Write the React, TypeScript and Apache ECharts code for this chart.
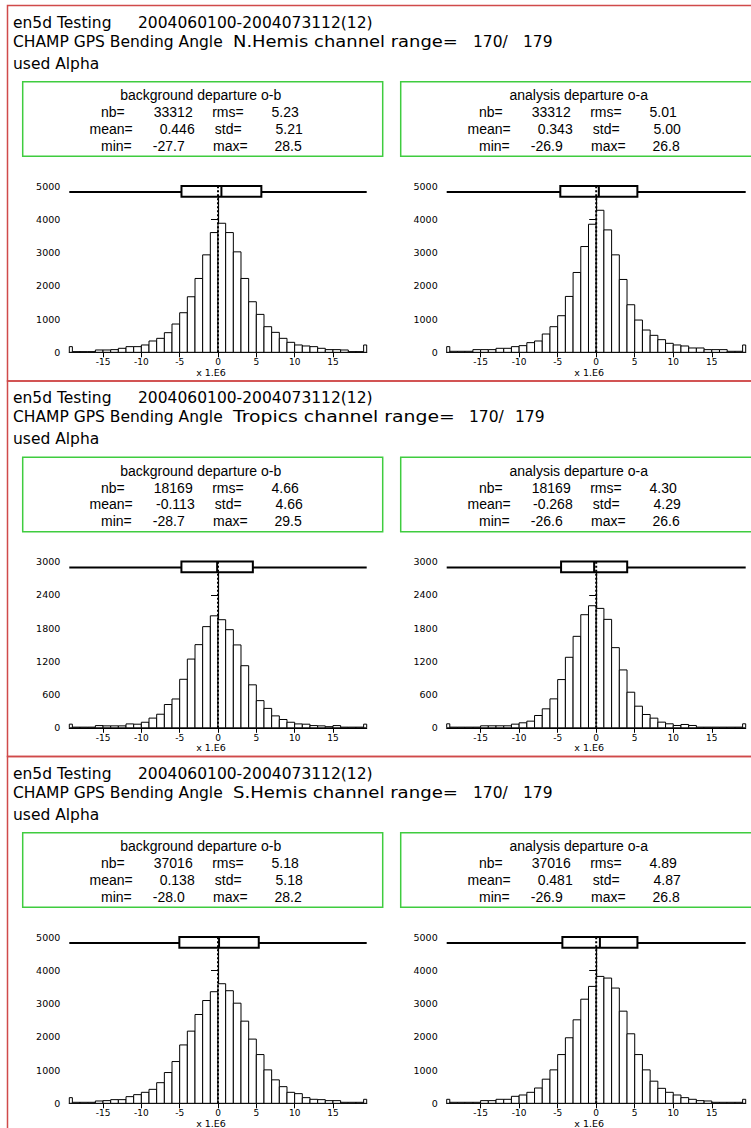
import React, { useEffect, useRef } from "react";
import * as echarts from "echarts";

// ---------- texts ----------
const RUN_NAME = "en5d Testing";
const PERIOD = "2004060100-2004073112(12)";
const INSTRUMENT = "CHAMP GPS Bending Angle";
const REGIONS = ["N.Hemis", "Tropics", "S.Hemis"];
const CHANNEL_TEXT = "channel range=";
const CHANNEL_FROM = 170;
const CHANNEL_TO = 179;
const USED_LINE = "used Alpha";
const DEPARTURE_TITLES = ["background departure o-b", "analysis departure o-a"];
const X_NAME = "x 1.E6";

// ---------- statistics [region][o-b, o-a] ----------
const NB = [[33312, 33312], [18169, 18169], [37016, 37016]];
const RMS = [[5.23, 5.01], [4.66, 4.30], [5.18, 4.89]];
const MEAN = [[0.446, 0.343], [-0.113, -0.268], [0.138, 0.481]];
const STD = [[5.21, 5.00], [4.66, 4.29], [5.18, 4.87]];
const MIN = [[-27.7, -26.9], [-28.7, -26.6], [-28.0, -26.9]];
const MAX = [[28.5, 26.8], [29.5, 26.6], [28.2, 26.8]];

// ---------- axes ----------
const Y_MAX = [5000, 3000, 5000];
const Y_STEP = [1000, 600, 1000];
const X_TICKS = [-15, -10, -5, 0, 5, 10, 15];
const X_LIMIT = 19.4;
const BIN_FIRST_EDGE = -19; // 38 unit bins from -19 to 19

// ---------- histogram counts, bins [-19,-18] ... [18,19] ----------
const NH_OB = [20, 20, 20, 70, 70, 80, 120, 170, 170, 220, 340, 420, 590, 850, 1190, 1670, 2220, 2930, 3600,
  3880, 3600, 3020, 2220, 1520, 1140, 770, 600, 420, 300, 220, 190, 170, 120, 80, 80, 70, 20, 20];
const NH_OA = [30, 30, 30, 80, 80, 80, 120, 120, 170, 200, 290, 340, 550, 770, 1100, 1680, 2400, 3180, 3850,
  4270, 3680, 2930, 2190, 1430, 970, 670, 510, 380, 270, 220, 190, 130, 130, 80, 80, 80, 30, 30];
const TR_OB = [12, 12, 12, 40, 35, 35, 35, 70, 65, 100, 175, 245, 420, 520, 875, 1240, 1500, 1825, 2020,
  1950, 1770, 1495, 1120, 775, 490, 350, 215, 150, 100, 70, 65, 40, 35, 20, 40, 12, 12, 12];
const TR_OA = [12, 12, 12, 12, 36, 36, 36, 36, 66, 90, 120, 222, 342, 522, 870, 1272, 1650, 2040, 2202,
  2154, 1956, 1446, 1044, 642, 390, 240, 174, 102, 72, 42, 60, 42, 12, 12, 12, 12, 12, 12];
const SH_OB = [30, 30, 30, 70, 80, 110, 110, 200, 260, 330, 420, 620, 925, 1255, 1755, 2170, 2670, 3090, 3355,
  3595, 3385, 3010, 2470, 1930, 1465, 1005, 705, 500, 330, 290, 170, 120, 110, 80, 80, 30, 30, 30];
const SH_OA = [30, 30, 30, 30, 80, 80, 120, 120, 210, 250, 330, 460, 725, 1005, 1465, 1970, 2510, 3130, 3515,
  3815, 3765, 3465, 2770, 2090, 1465, 1005, 665, 450, 330, 250, 170, 120, 80, 70, 30, 30, 30, 30];
// counts outside the plotted range [left, right]
const NH_OB_OUT = [170, 220];
const NH_OA_OUT = [170, 220];
const TR_OB_OUT = [66, 66];
const TR_OA_OUT = [72, 72];
const SH_OB_OUT = [170, 120];
const SH_OA_OUT = [120, 120];

const COUNTS = [[NH_OB, NH_OA], [TR_OB, TR_OA], [SH_OB, SH_OA]];
const OUTSIDE = [[NH_OB_OUT, NH_OA_OUT], [TR_OB_OUT, TR_OA_OUT], [SH_OB_OUT, SH_OA_OUT]];

// ---------- layout ----------
const W = 751;
const H = 1128;
const PANEL_TOP0 = 5.5;
const PANEL_H = 375.5;
const GRID_X = [{ left: 69.3, width: 297.4 }, { left: 446.7, width: 299 }];
const GRID_TOP = 180.5;
const GRID_H = 166.3;
const BOX_X = [22.7, 400.7];
const BOX_TOP = 76.3;
const BOX_W = 360;
const BOX_H = 74.5;
const REGION_X = 233;
const CHANNEL_END = [458, 455, 458];
const RANGE_X = [[473, 523], [469, 515], [473, 523]];

const HEAD_FONT = "DejaVu Sans";
const HEAD_SIZE = 15.5;
const STAT_FONT = "Liberation Sans, Arial, sans-serif";
const TICK_FONT = "DejaVu Sans";
const RED = "#d04a4a";
const GREEN = "#3fcc3f";

function measure(text: string, font: string) {
  const ctx = document.createElement("canvas").getContext("2d");
  if (!ctx) return text.length * 8;
  ctx.font = font;
  return ctx.measureText(text).width;
}

function histData(counts: number[], out: number[]) {
  const d: number[][] = [];
  d.push([-X_LIMIT, BIN_FIRST_EDGE, out[0]]);
  counts.forEach((c, i) => d.push([BIN_FIRST_EDGE + i, BIN_FIRST_EDGE + i + 1, c]));
  d.push([BIN_FIRST_EDGE + counts.length, X_LIMIT, out[1]]);
  return d;
}

function buildOption() {
  const grids: any[] = [];
  const xAxes: any[] = [];
  const yAxes: any[] = [];
  const series: any[] = [];
  const graphics: any[] = [];
  const headFont = `${HEAD_SIZE}px "${HEAD_FONT}"`;

  for (let p = 0; p < 3; p++) {
    const T = PANEL_TOP0 + p * PANEL_H;
    graphics.push({
      type: "rect",
      shape: { x: 7.5, y: T, width: 800, height: PANEL_H },
      style: { fill: "none", stroke: RED, lineWidth: 1.5 },
      silent: true,
    });
    const head = (text: string, x: number, y: number, scaleX = 1) => ({
      type: "text",
      x,
      y,
      scaleX,
      style: {
        text,
        fill: "#000",
        font: headFont,
        textVerticalAlign: "middle",
        verticalAlign: "middle",
      },
      silent: true,
    });
    graphics.push(head(RUN_NAME, 13, T + 17));
    graphics.push(head(PERIOD, 138, T + 17));
    graphics.push(head(INSTRUMENT, 13, T + 36));
    const regionText = `${REGIONS[p]} ${CHANNEL_TEXT}`;
    const k = (CHANNEL_END[p] - REGION_X) / measure(regionText, headFont);
    graphics.push(head(regionText, REGION_X, T + 36, k));
    graphics.push(head(`${CHANNEL_FROM}/`, RANGE_X[p][0], T + 36));
    graphics.push(head(`${CHANNEL_TO}`, RANGE_X[p][1], T + 36));
    graphics.push(head(USED_LINE, 13, T + 58));

    for (let s = 0; s < 2; s++) {
      const gi = p * 2 + s;
      const bx = BOX_X[s];
      const by = T + BOX_TOP;
      graphics.push({
        type: "rect",
        shape: { x: bx, y: by, width: BOX_W, height: BOX_H },
        style: { fill: "none", stroke: GREEN, lineWidth: 1.5 },
        silent: true,
      });
      const st = (text: string, x: number, y: number, align: string) => ({
        type: "text",
        x,
        y,
        style: {
          text,
          fill: "#000",
          font: `14px ${STAT_FONT}`,
          align,
          textAlign: align,
          verticalAlign: "middle",
          textVerticalAlign: "middle",
        },
        silent: true,
      });
      graphics.push(st(DEPARTURE_TITLES[s], bx + 178, by + 13.5, "center"));
      const rows = [
        ["nb=", String(NB[p][s]), "rms=", RMS[p][s].toFixed(2)],
        ["mean=", MEAN[p][s].toFixed(3), "std=", STD[p][s].toFixed(2)],
        ["min=", MIN[p][s].toFixed(1), "max=", MAX[p][s].toFixed(1)],
      ];
      const l1 = [102, 110, 109];
      const v1 = [170, 172, 162];
      const l2 = [221, 219, 225];
      const v2 = [276, 280, 279];
      const ry = [30.5, 47, 64];
      rows.forEach((r, i) => {
        graphics.push(st(r[0], bx + l1[i], by + ry[i], "right"));
        graphics.push(st(r[1], bx + v1[i], by + ry[i], "right"));
        graphics.push(st(r[2], bx + l2[i], by + ry[i], "right"));
        graphics.push(st(r[3], bx + v2[i], by + ry[i], "right"));
      });

      grids.push({
        left: GRID_X[s].left,
        width: GRID_X[s].width,
        top: T + GRID_TOP,
        height: GRID_H,
        containLabel: false,
        outerBoundsMode: "none",
      });
      xAxes.push({
        type: "value",
        gridIndex: gi,
        min: -X_LIMIT,
        max: X_LIMIT,
        axisLine: { show: true, onZero: false, lineStyle: { color: "#000", width: 1.2 } },
        axisTick: { show: true, customValues: X_TICKS, length: 5, lineStyle: { color: "#000", width: 1 } },
        axisLabel: {
          show: true,
          customValues: X_TICKS,
          color: "#000",
          fontFamily: TICK_FONT,
          fontSize: 9,
          margin: 5.5,
          formatter: (v: number) => String(v),
        },
        splitLine: { show: false },
        name: X_NAME,
        nameLocation: "middle",
        nameGap: 14.8,
        nameMoveOverlap: false,
        nameTextStyle: { color: "#000", fontFamily: TICK_FONT, fontSize: 9.5, padding: [0, 14, 0, 0] },
      });
      yAxes.push({
        type: "value",
        gridIndex: gi,
        min: 0,
        max: Y_MAX[p],
        interval: Y_STEP[p],
        axisLine: { show: true, lineStyle: { color: "#000", width: 1.2 } },
        axisTick: { show: true, length: 7, lineStyle: { color: "#000", width: 1 } },
        axisLabel: {
          show: true,
          color: "#000",
          fontFamily: TICK_FONT,
          fontSize: 9.5,
          margin: 9,
          formatter: (v: number) => String(v),
        },
        splitLine: { show: false },
      });

      series.push({
        type: "custom",
        xAxisIndex: gi,
        yAxisIndex: gi,
        data: histData(COUNTS[p][s], OUTSIDE[p][s]),
        encode: { x: [0, 1], y: 2 },
        renderItem: (params: any, api: any) => {
          const a = api.coord([api.value(0), api.value(2)]);
          const b = api.coord([api.value(1), 0]);
          return {
            type: "rect",
            shape: { x: a[0], y: a[1], width: b[0] - a[0], height: b[1] - a[1] },
            style: { fill: "#fff", stroke: "#000", lineWidth: 1 },
          };
        },
        z: 2,
      });

      const ymax = Y_MAX[p];
      series.push({
        type: "custom",
        xAxisIndex: gi,
        yAxisIndex: gi,
        clip: false,
        data: [[MIN[p][s], MAX[p][s], MEAN[p][s] - STD[p][s], MEAN[p][s] + STD[p][s], MEAN[p][s]]],
        encode: { x: [0, 1, 2, 3, 4] },
        renderItem: (params: any, api: any) => {
          const lo = Math.max(api.value(0), -X_LIMIT);
          const hi = Math.min(api.value(1), X_LIMIT);
          const q0 = api.value(2);
          const q1 = api.value(3);
          const m = api.value(4);
          const yLine = ymax * 0.964;
          const yB0 = ymax * 0.936;
          const yB1 = ymax * 1.0;
          const a = api.coord([lo, yLine]);
          const b = api.coord([hi, yLine]);
          const c0 = api.coord([q0, yB1]);
          const c1 = api.coord([q1, yB0]);
          const m0 = api.coord([m, yB1]);
          const m1 = api.coord([m, yB0]);
          const z0 = api.coord([0, 0]);
          const z1 = api.coord([0, yB1]);
          return {
            type: "group",
            children: [
              { type: "line", shape: { x1: a[0], y1: a[1], x2: b[0], y2: b[1] }, style: { stroke: "#000", lineWidth: 2 } },
              {
                type: "rect",
                shape: { x: c0[0], y: c0[1], width: c1[0] - c0[0], height: c1[1] - c0[1] },
                style: { fill: "#fff", stroke: "#000", lineWidth: 2 },
              },
              { type: "line", shape: { x1: m0[0], y1: m0[1], x2: m1[0], y2: m1[1] }, style: { stroke: "#000", lineWidth: 2 } },
              {
                type: "line",
                shape: { x1: z0[0], y1: z0[1], x2: z1[0], y2: z1[1] },
                style: { stroke: "#000", lineWidth: 2, lineDash: [2, 2] },
              },
            ],
          };
        },
        z: 3,
      });
    }
  }

  return {
    animation: false,
    backgroundColor: "#fff",
    grid: grids,
    xAxis: xAxes,
    yAxis: yAxes,
    series,
    graphic: { elements: graphics },
  };
}

export default function App() {
  const ref = useRef<HTMLDivElement>(null);
  useEffect(() => {
    if (!ref.current) return;
    const chart = echarts.init(ref.current, null, { renderer: "svg" });
    chart.setOption(buildOption() as any);
    return () => chart.dispose();
  }, []);
  return <div ref={ref} style={{ position: "absolute", left: 0, top: 0, width: W, height: H, background: "#fff" }} />;
}
